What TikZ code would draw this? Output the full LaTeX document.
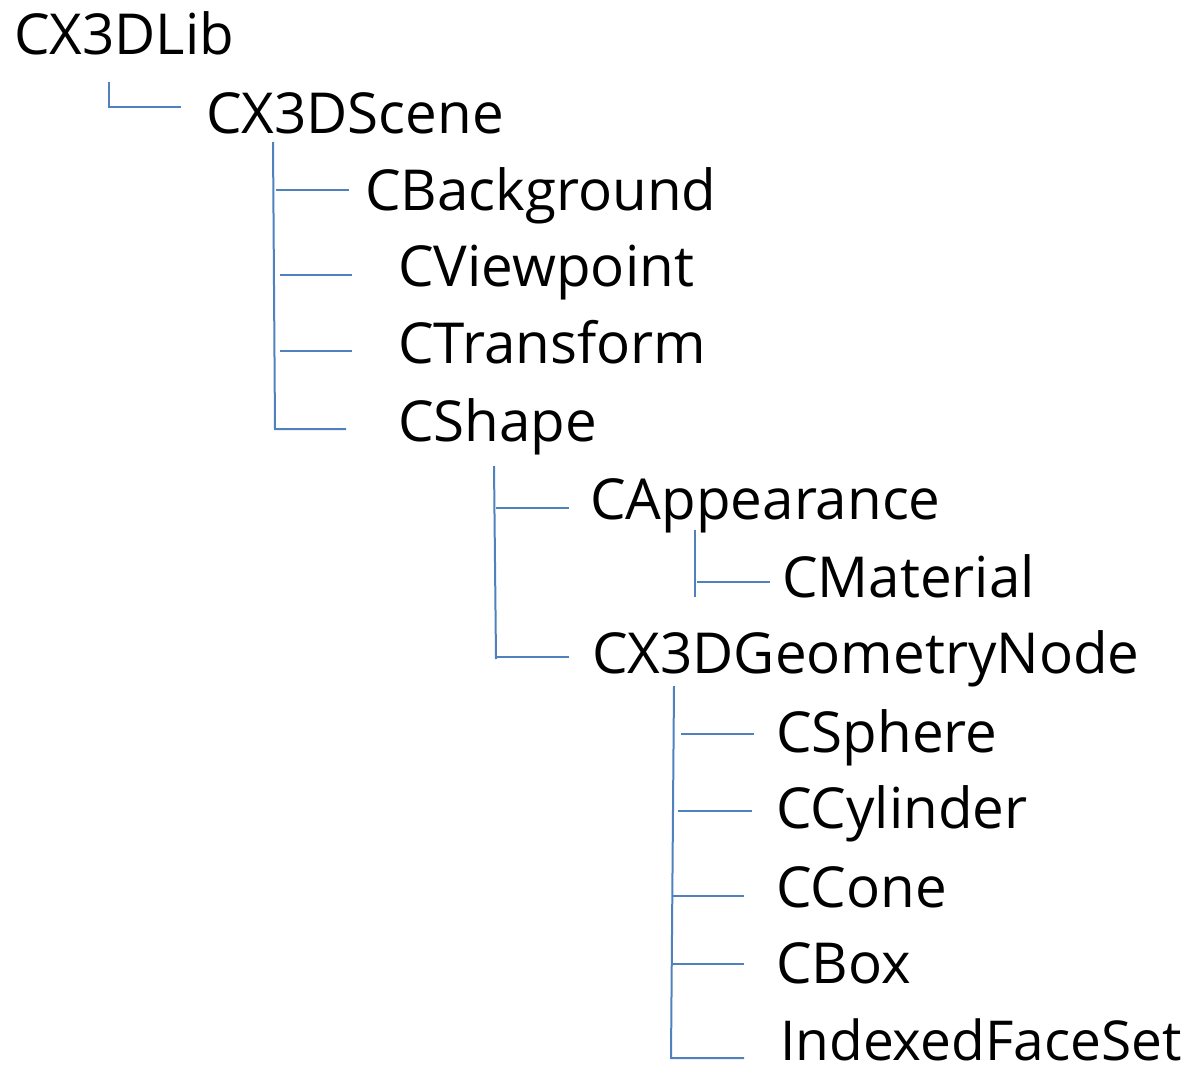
\documentclass[tikz,border=0pt]{standalone}
\usepackage{fontspec}
\setmainfont{Open Sans}
\tikzset{
  lbl/.style={anchor=base west, inner sep=0pt, font=\fontsize{56.5}{60}\selectfont},
  branch/.style={draw={rgb,255:red,79;green,129;blue,189}, line width=2pt}
}
\begin{document}
\begin{tikzpicture}[x=1pt,y=-1pt]
      \useasboundingbox (0,0) rectangle (1199,1065);
      \draw
        (14,55) node[lbl] (lib){CX3DLib}
        (206,133) node[lbl] (scene){CX3DScene}
        (365,210) node[lbl] (bg){CBackground}
        (398,286) node[lbl] (vp){CViewpoint}
        (398,363) node[lbl] (tf){CTransform}
        (398,441) node[lbl] (shape){CShape}
        (590,519) node[lbl] (app){CAppearance}
        (782,597) node[lbl] (mat){CMaterial}
        (592,673) node[lbl] (geo){CX3DGeometryNode}
        (776,752) node[lbl] (sph){CSphere}
        (776,828) node[lbl] (cyl){CCylinder}
        (776,907) node[lbl] (cone){CCone}
        (776,983) node[lbl] (box){CBox}
        (780,1060) node[lbl, font=\fontsize{55}{60}\selectfont] (ifs){IndexedFaceSet};
      \path
        (109,82) coordinate (lib-top)
        (109,107) coordinate (lib-bot)
        (181,107) coordinate (scene-end)
        (273,142) coordinate (scene-top)
        (275,429) coordinate (scene-bot)
        (276,190) coordinate (bg-a) (349,190) coordinate (bg-b)
        (280,275) coordinate (vp-a) (352,275) coordinate (vp-b)
        (280,351) coordinate (tf-a) (352,351) coordinate (tf-b)
        (346,429) coordinate (shape-b)
        (494,466) coordinate (shape-top)
        (496,659) coordinate (shape-bot)
        (496,508) coordinate (app-a) (569,508) coordinate (app-b)
        (496,657) coordinate (geo-a) (569,657) coordinate (geo-b)
        (695,530) coordinate (app-top)
        (695,597) coordinate (app-bot)
        (697,582) coordinate (mat-a) (770,582) coordinate (mat-b)
        (674,686) coordinate (geo-top)
        (671,1058) coordinate (geo-bot)
        (681,734) coordinate (sph-a) (754,734) coordinate (sph-b)
        (678,811) coordinate (cyl-a) (752,811) coordinate (cyl-b)
        (672,896) coordinate (cone-a) (744,896) coordinate (cone-b)
        (672,964) coordinate (box-a) (744,964) coordinate (box-b)
        (744,1058) coordinate (ifs-b);
      \begin{scope}[branch]
        \draw (lib-top) |- (scene-end);
        \draw (scene-top) -- (scene-bot) -- (shape-b);
        \draw (bg-a) -- (bg-b);
        \draw (vp-a) -- (vp-b);
        \draw (tf-a) -- (tf-b);
        \draw (shape-top) -- (shape-bot);
        \draw (app-a) -- (app-b);
        \draw (geo-a) -- (geo-b);
        \draw (app-top) -- (app-bot);
        \draw (mat-a) -- (mat-b);
        \draw (geo-top) -- (geo-bot) -- (ifs-b);
        \draw (sph-a) -- (sph-b);
        \draw (cyl-a) -- (cyl-b);
        \draw (cone-a) -- (cone-b);
        \draw (box-a) -- (box-b);
      \end{scope}
    \end{tikzpicture}
\end{document}
